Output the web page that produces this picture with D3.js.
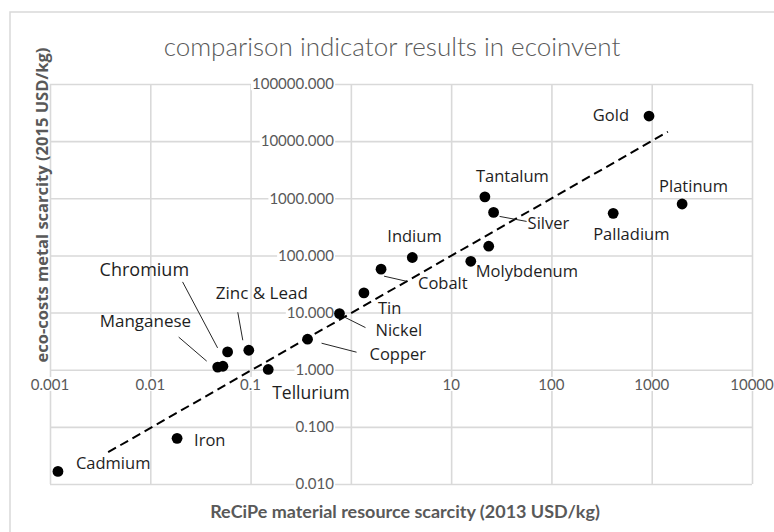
<!DOCTYPE html>
<html><head><meta charset="utf-8">
<script src="https://cdn.jsdelivr.net/npm/d3@7"></script>
<style>body{margin:0;background:#fff}svg{display:block}</style>
</head><body><svg id="c" width="774" height="532"></svg>
<script>
// ---- data ----
const metals  = ["Cadmium","Iron","Manganese","(unlabeled A)","Chromium","Zinc & Lead","Tellurium","Copper","Nickel","Tin","Cobalt","Indium","Molybdenum","(unlabeled B)","Silver","Tantalum","Palladium","Platinum","Gold"];
const recipe  = [0.0012,0.0185,0.047,0.053,0.059,0.096,0.150,0.37,0.77,1.35,2.0,4.1,15.7,23.7,26.5,21.7,413,2010,940];
const ecocost = [0.0166,0.063,1.11,1.15,2.05,2.19,1.01,3.42,9.6,22.1,57.5,92,79,145,566,1060,545,794,27500];
const xTicks = [0.001,0.01,0.1,10,100,1000,10000];
const xTickLabels = ["0.001","0.01","0.1","10","100","1000","10000"];
const yTicks = [0.01,0.1,1,10,100,1000,10000,100000];
const yTickLabels = ["0.010","0.100","1.000","10.000","100.000","1000.000","10000.000","100000.000"];
const trendX = [0.0038,1450];
const trendY = [0.036,14600];
const titleText = "comparison indicator results in ecoinvent";
const xTitle = "ReCiPe material resource scarcity (2013 USD/kg)";
const yTitle = "eco-costs metal scarcity (2015 USD/kg)";

// ---- label layout (pixel offsets from the dot) ----
const layout = {
  "Cadmium":{dx:18,dy:-8},
  "Iron":{dx:17,dy:2},
  "Manganese":{dx:-118,dy:-46,lead:[-39,-30,-11,-6],size:17},
  "Chromium":{dx:-128,dy:-82,lead:[-45,-70,-10,-4],size:18},
  "Zinc & Lead":{dx:-33,dy:-57,lead:[-11,-38,-6,-10],size:17},
  "Tellurium":{dx:4,dy:23,size:17.5},
  "Copper":{dx:62,dy:15,lead:[14,4,49,13]},
  "Nickel":{dx:36,dy:17,lead:[4,3,26,14]},
  "Tin":{dx:14,dy:15},
  "Cobalt":{dx:37,dy:14,lead:[3,7,25,12]},
  "Indium":{dx:-25,dy:-21},
  "Molybdenum":{dx:5,dy:10},
  "Silver":{dx:34,dy:11,lead:[6,4,33,9]},
  "Tantalum":{dx:-9,dy:-21},
  "Palladium":{dx:-20,dy:21},
  "Platinum":{dx:-23,dy:-18},
  "Gold":{dx:-20,dy:-1,anchor:"end"}
};

const svg = d3.select("#c");
const M = {l:50,r:752,t:84,b:484};
const x = d3.scaleLog().domain([0.001,10000]).range([M.l,M.r]);
const y = d3.scaleLog().domain([0.01,100000]).range([M.b,M.t]);
const grid = "#d9d9d9", grey = "#595959";

function fit(sel, target){
  const w = sel.node().getComputedTextLength();
  const s = parseFloat(sel.attr("font-size"));
  sel.attr("font-size", s*target/w);
}

// frame
svg.append("rect").attr("x",10).attr("y",12).attr("width",800).attr("height",560)
  .attr("fill","#fff").attr("stroke",grid).attr("stroke-width",1.5);

// gridlines
const gx = d3.axisBottom(x).tickValues([0.001,0.01,0.1,1,10,100,1000,10000]).tickSize(-(M.b-M.t)).tickFormat("");
svg.append("g").attr("transform",`translate(0,${M.b})`).call(gx)
  .call(g=>g.select(".domain").remove())
  .call(g=>g.selectAll("line").attr("stroke",grid).attr("stroke-width",1.6));
const gy = d3.axisLeft(y).tickValues(yTicks).tickSize(-(M.r-M.l)).tickFormat("");
svg.append("g").attr("transform",`translate(${M.l},0)`).call(gy)
  .call(g=>g.select(".domain").remove())
  .call(g=>g.selectAll("line").attr("stroke",grid).attr("stroke-width",1.6));

// tick labels with white backing
const lblFont = "Lato, 'Liberation Sans', sans-serif";
const yl = svg.append("g");
yTicks.forEach((v,i)=>{
  const t = yl.append("text").attr("x",x(1)-17).attr("y",y(v)).attr("dy","0.35em")
    .attr("text-anchor","end").attr("font-family",lblFont).attr("font-size",15)
    .attr("fill",grey).text(yTickLabels[i]);
  const bb = t.node().getBBox();
  yl.insert("rect","text").attr("x",bb.x-1).attr("y",bb.y+2).attr("width",bb.width+2).attr("height",bb.height-4).attr("fill","#fff");
});
const xl = svg.append("g");
xTicks.forEach((v,i)=>{
  const t = xl.append("text").attr("x",x(v)).attr("y",y(1)+15).attr("dy","0.35em")
    .attr("text-anchor","middle").attr("font-family",lblFont).attr("font-size",15)
    .attr("fill",grey).text(xTickLabels[i]);
  const bb = t.node().getBBox();
  xl.insert("rect","text").attr("x",bb.x).attr("y",bb.y+2).attr("width",bb.width).attr("height",bb.height-4).attr("fill","#fff");
});

// trendline
svg.append("path").datum(trendX.map((v,i)=>[v,trendY[i]]))
  .attr("d",d3.line().x(d=>x(d[0])).y(d=>y(d[1])))
  .attr("stroke","#000").attr("stroke-width",2).attr("stroke-dasharray","9,5").attr("fill","none");

// leader lines
const pts = metals.map((m,i)=>({name:m,px:x(recipe[i]),py:y(ecocost[i])}));
svg.append("g").selectAll("line").data(pts.filter(p=>layout[p.name]&&layout[p.name].lead)).join("line")
  .attr("x1",p=>p.px+layout[p.name].lead[0]).attr("y1",p=>p.py+layout[p.name].lead[1])
  .attr("x2",p=>p.px+layout[p.name].lead[2]).attr("y2",p=>p.py+layout[p.name].lead[3])
  .attr("stroke","#262626").attr("stroke-width",1);

// labels
svg.append("g").selectAll("text").data(pts.filter(p=>layout[p.name])).join("text")
  .attr("x",p=>p.px+layout[p.name].dx).attr("y",p=>p.py+layout[p.name].dy).attr("dy","0.35em")
  .attr("text-anchor",p=>layout[p.name].anchor||"start")
  .attr("font-family","'Open Sans', sans-serif").attr("font-size",p=>layout[p.name].size||16.5)
  .attr("fill","#1e1e1e").text(p=>p.name);

// dots
svg.append("g").selectAll("circle").data(pts).join("circle")
  .attr("cx",p=>p.px).attr("cy",p=>p.py).attr("r",5.4).attr("fill","#000");

// titles
const tt = svg.append("text").attr("x",392).attr("y",56).attr("text-anchor","middle")
  .attr("font-family",lblFont).attr("font-weight",300).attr("font-size",24).attr("fill",grey).text(titleText);
fit(tt,457);
const xt = svg.append("text").attr("x",405).attr("y",512).attr("dy","0.35em").attr("text-anchor","middle")
  .attr("font-family",lblFont).attr("font-weight",700).attr("font-size",15).attr("fill",grey).text(xTitle);
fit(xt,390);
const ytt = svg.append("text").attr("transform","translate(42,205) rotate(-90)").attr("dy","0.35em")
  .attr("text-anchor","middle").attr("font-family","'Open Sans', sans-serif").attr("font-weight",700)
  .attr("font-size",15).attr("fill",grey).text(yTitle);
fit(ytt,315);
</script></body></html>
